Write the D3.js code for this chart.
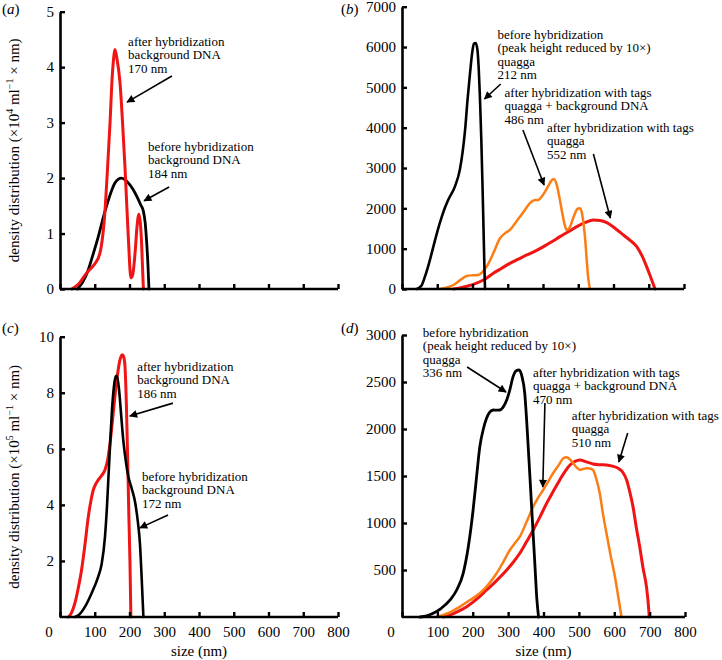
<!DOCTYPE html>
<html><head><meta charset="utf-8">
<script src="https://cdn.jsdelivr.net/npm/d3@7"></script>
<style>
body{margin:0;background:#fff;}
svg{display:block;font-family:"Liberation Serif","Times New Roman",serif;}
</style>
</head><body>
<svg id="chart" width="722" height="660"></svg>
<script>
// ---------- data ----------
const sizeTicks = [0,100,200,300,400,500,600,700,800];
const aTicks = [0,1,2,3,4,5];
const bTicks = [0,1000,2000,3000,4000,5000,6000,7000];
const cTicks = [2,4,6,8,10];
const dTicks = [500,1000,1500,2000,2500,3000];

// panel (a)  density ×10^4
const aBefore = [[50,0],[65,0.12],[81,0.34],[95,0.62],[110,0.94],[125,1.3],[139,1.6],[150,1.8],[158,1.91],[168,1.98],[177,2.0],[187,1.97],[197,1.91],[210,1.8],[221,1.67],[232,1.52],[240,1.4],[245,1.2],[249,0.88],[253,0.45],[256,0]];
const aAfter = [[34,0],[55,0.1],[72,0.25],[90,0.38],[101,0.46],[115,0.65],[129,1.37],[137,2.2],[144,3.0],[150,3.8],[155,4.2],[158,4.32],[164,4.15],[173,3.7],[180,3.0],[187,2.2],[197,0.88],[204,0.2],[209,0.25],[216,0.65],[222,1.15],[227,1.35],[231,1.2],[235,0.8],[238,0.3],[240,0]];

// panel (b)
const bBefore = [[42,0],[55,80],[65,305],[77,650],[89,1050],[101,1450],[113,1795],[122,2020],[131,2209],[150,2540],[164,2954],[172,3400],[179,3946],[186,4700],[193,5354],[199,5850],[204,6080],[209,6100],[214,5932],[218,5400],[221,4773],[225,3700],[228,2705],[231,1600],[233.5,645],[235.5,0]];
const bTagsMix = [[108,0],[125,30],[146,99],[165,220],[183.5,323],[200,340],[216.5,347],[228,420],[240,554],[259,885],[278,1258],[292,1380],[306,1464],[320,1620],[335,1795],[350,1980],[363,2127],[375,2200],[387,2209],[397,2300],[406,2415],[418,2600],[425,2700],[431,2730],[439,2581],[446,2300],[453,1961],[460,1650],[467,1464],[472,1480],[477,1546],[484,1720],[491,1879],[498,1990],[505,2003],[510,1900],[516,1546],[520,1200],[524,720],[528,300],[533,0]];
const bTagsQuagga = [[146,0],[170,40],[200,110],[231,223],[259,389],[282,510],[306,637],[330,740],[354,844],[378,940],[401,1050],[425,1170],[448,1298],[472,1420],[496,1546],[520,1650],[543,1712],[562,1700],[581,1646],[605,1500],[628,1340],[648,1200],[666,1050],[681,820],[694,554],[706,280],[718,0]];

// panel (c)  density ×10^5
const cBefore = [[43,0],[55,0.08],[72,0.37],[91,0.85],[110,1.44],[120,1.9],[129.5,2.87],[135,3.9],[139,4.89],[144,6.1],[149,7.27],[155,8.2],[160,8.6],[164,8.6],[170,8.1],[176,7.2],[182,6.32],[189,5.6],[196.6,5.01],[206,4.6],[216,4.1],[224,3.4],[230,2.63],[235,1.4],[240,0]];
const cAfter = [[24,0],[33,0.15],[43,0.5],[52,1.0],[62,1.68],[72,2.6],[81.5,3.58],[89,4.15],[96,4.54],[103,4.75],[110,4.89],[120,5.05],[129.5,5.25],[137,5.6],[144,6.2],[151,7.0],[158,7.87],[165,8.6],[172.7,9.18],[179,9.36],[184,9.25],[187,8.94],[191,7.6],[195,5.49],[198,3.7],[201.4,1.92],[204,0]];

// panel (d)
const dBefore = [[51,0],[70,12],[88,39],[110,90],[136,181],[155,290],[173,465],[188,760],[201,1138],[211,1500],[220,1812],[230,2000],[239,2114],[248,2180],[258,2202],[268,2200],[277,2202],[287,2240],[296,2309],[305,2420],[314,2557],[323,2620],[331,2628],[339,2560],[347,2380],[354,1990],[361.6,1493],[369,1000],[376,535],[381,200],[386,0]];
const dTagsMix = [[98,0],[130,40],[164,110],[192,180],[220,252],[245,350],[267.5,465],[287,590],[305,713],[320,790],[333,854],[352,1010],[371,1174],[385,1270],[399,1351],[413,1440],[427,1529],[442,1610],[456,1688],[465,1700],[474,1680],[484,1635],[494,1590],[503,1564],[512,1575],[522,1582],[531,1580],[540,1564],[550,1460],[559,1316],[568,1100],[578,890],[590,650],[602,429],[612,200],[620.6,0]];
const dTagsQuagga = [[117,0],[150,45],[183,110],[211,190],[239,287],[268,390],[296,500],[315,585],[333,678],[352,800],[371,926],[390,1065],[409,1210],[428,1340],[446,1458],[461,1550],[475,1617],[489,1655],[503,1670],[521,1650],[540,1628],[559,1620],[578,1617],[595,1605],[611,1582],[624,1540],[635,1458],[644,1330],[653,1174],[662,960],[672,748],[681,530],[691,323],[696,150],[699,0]];

// annotation texts
const aNotes = [["after hybridization","background DNA","170 nm"],["before hybridization","background DNA","184 nm"]];
const bNotes = [["before hybridization","(peak height reduced by 10×)","quagga","212 nm"],["after hybridization with tags","quagga + background DNA","486 nm"],["after hybridization with tags","quagga","552 nm"]];
const cNotes = [["after hybridization","background DNA","186 nm"],["before hybridization","background DNA","172 nm"]];
const dNotes = [["before hybridization","(peak height reduced by 10×)","quagga","336 nm"],["after hybridization with tags","quagga + background DNA","470 nm"],["after hybridization with tags","quagga","510 nm"]];

// ---------- drawing ----------
const COL = {black:"#000000", red:"#f01414", orange:"#fb7d14"};
const svg = d3.select("#chart");
const defs = svg.append("defs");
defs.append("marker").attr("id","ah").attr("viewBox","0 0 10 10").attr("refX",9).attr("refY",5)
  .attr("markerWidth",9).attr("markerHeight",8).attr("markerUnits","userSpaceOnUse").attr("orient","auto")
  .append("path").attr("d","M0,0 L10,5 L0,10 Z").attr("fill","#000");

function panel(cfg){
  const x = d3.scaleLinear().domain([0,800]).range(cfg.xr);
  const y = d3.scaleLinear().domain(cfg.yd).range(cfg.yr);
  const g = svg.append("g");
  const line = d3.line().x(d=>x(d[0])).y(d=>y(d[1])).curve(d3.curveMonotoneX);

  cfg.series.forEach(s=>{
    g.append("path").datum(s.data).attr("d",line).attr("fill","none")
      .attr("stroke",s.color).attr("stroke-width",s.w).attr("stroke-linejoin","round").attr("stroke-linecap","round");
  });

  // axes
  const ya = d3.axisLeft(y).tickValues(cfg.yt).tickSizeInner(-5).tickSizeOuter(0).tickPadding(6).tickFormat(d3.format("d"));
  const yg = g.append("g").attr("transform",`translate(${cfg.xr[0]},0)`).call(ya);
  const xa = d3.axisBottom(x).tickValues(sizeTicks).tickSizeInner(-5).tickSizeOuter(0).tickPadding(9)
    .tickFormat(d=> (cfg.xlabels && d>0) ? d : "");
  const xg = g.append("g").attr("transform",`translate(0,${cfg.yr[0]})`).call(xa);
  [yg,xg].forEach(a=>{
    a.select(".domain").attr("stroke","#000").attr("stroke-width",2.6);
    a.selectAll(".tick line").attr("stroke","#000").attr("stroke-width",2.4);
    a.selectAll("text").attr("font-family","Liberation Serif").attr("font-size",15).attr("fill","#000");
  });
  xg.select(".domain").attr("d",`M${cfg.xr[0]},0H${cfg.xr[1]}`);
  if(cfg.xlabels){
    g.append("text").attr("x",x(0)-11).attr("y",cfg.yr[0]+9).attr("dy","0.71em")
      .attr("text-anchor","middle").attr("font-size",15).text("0");
    g.append("text").attr("x",(cfg.xr[0]+cfg.xr[1])/2).attr("y",cfg.yr[0]+39)
      .attr("text-anchor","middle").attr("font-size",15).text("size (nm)");
  }
  // panel letter
  const pl = g.append("text").attr("x",cfg.lab[0]).attr("y",cfg.lab[1]).attr("font-size",15);
  pl.append("tspan").text("(");
  pl.append("tspan").attr("font-style","italic").text(cfg.letter);
  pl.append("tspan").text(")");

  // y label
  if(cfg.ylabel){
    const cy = (cfg.yr[0]+cfg.yr[1])/2;
    const t = g.append("text").attr("transform",`translate(19,${cy}) rotate(-90)`)
      .attr("text-anchor","middle").attr("font-size",15);
    t.append("tspan").text("density distribution (×10");
    t.append("tspan").attr("font-size",10).attr("dy",-6).text(cfg.ylabel);
    t.append("tspan").attr("dy",6).text(" ml");
    t.append("tspan").attr("font-size",10).attr("dy",-6).text("−1");
    t.append("tspan").attr("dy",6).text(" × nm)");
  }

  // annotations
  cfg.notes.forEach(n=>{
    const t = g.append("text").attr("font-size",13).attr("fill","#000");
    n.lines.forEach((l,i)=>{
      t.append("tspan").attr("x",x(n.at[0])).attr("y",y(n.at[1])+i*13.4).text(l);
    });
    if(n.arrow){
      g.append("line").attr("x1",x(n.arrow[0])).attr("y1",y(n.arrow[1]))
        .attr("x2",x(n.arrow[2])).attr("y2",y(n.arrow[3]))
        .attr("stroke","#000").attr("stroke-width",1.6).attr("marker-end","url(#ah)");
    }
  });
}

panel({letter:"a", lab:[2,14], xr:[60,338], yd:[0,5], yr:[289,11.7], yt:aTicks, xlabels:false, ylabel:"4",
  series:[{data:aBefore,color:COL.black,w:2.8},{data:aAfter,color:COL.red,w:3}],
  notes:[{lines:aNotes[0],at:[196,4.38],arrow:[322,3.84,193,3.37]},
         {lines:aNotes[1],at:[253,2.49],arrow:[314,1.84,242,1.59]}]});

panel({letter:"b", lab:[341,14], xr:[402,684], yd:[0,7000], yr:[289,6.7], yt:bTicks, xlabels:false,
  series:[{data:bTagsQuagga,color:COL.red,w:3},{data:bTagsMix,color:COL.orange,w:2.5},{data:bBefore,color:COL.black,w:2.6}],
  notes:[{lines:bNotes[0],at:[271,6200],arrow:[280,5084,234,4712]},
         {lines:bNotes[1],at:[291,4762],arrow:[343,3943,403,2579]},
         {lines:bNotes[2],at:[411,3894],arrow:[543,3348,591,1761]}]});

panel({letter:"c", lab:[2,333], xr:[60,338], yd:[0,10], yr:[617,336.7], yt:cTicks, xlabels:true, ylabel:"5",
  series:[{data:cAfter,color:COL.red,w:3},{data:cBefore,color:COL.black,w:2.6}],
  notes:[{lines:cNotes[0],at:[222,8.78],arrow:[325,7.63,201,7.17]},
         {lines:cNotes[1],at:[236,4.85],arrow:[311,3.64,230,3.18]}]});

panel({letter:"d", lab:[341,333], xr:[402,685], yd:[0,3000], yr:[617,335], yt:dTicks, xlabels:true,
  series:[{data:dTagsQuagga,color:COL.red,w:3},{data:dTagsMix,color:COL.orange,w:2.5},{data:dBefore,color:COL.black,w:2.8}],
  notes:[{lines:dNotes[0],at:[59,2979],arrow:[184,2660,294,2394]},
         {lines:dNotes[1],at:[370,2554],arrow:[404,2277,398,1383]},
         {lines:dNotes[2],at:[480,2096],arrow:[638,1958,613,1649]}]});
</script>
</body></html>
